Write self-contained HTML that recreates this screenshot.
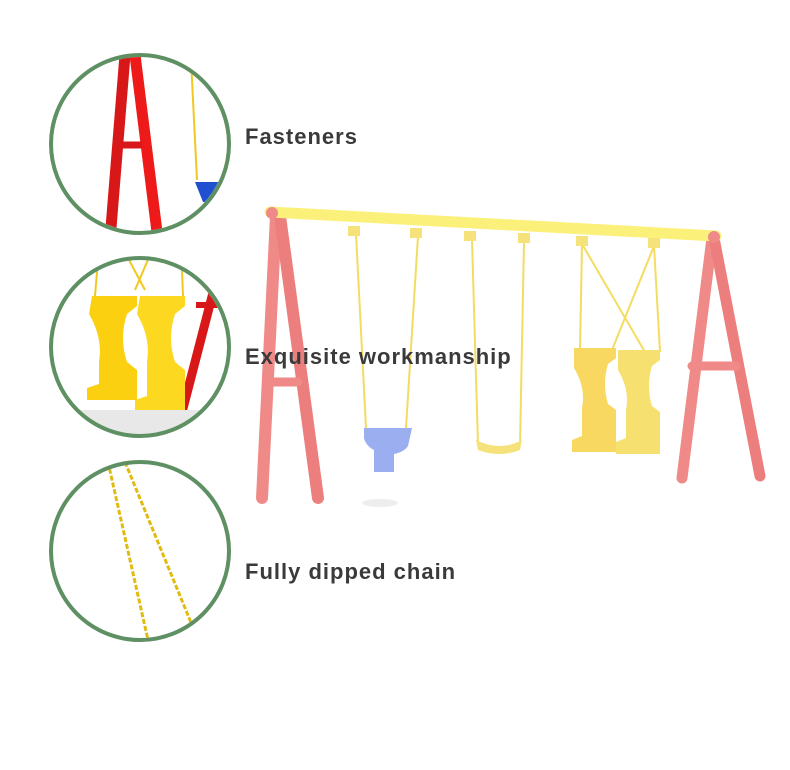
<!DOCTYPE html>
<html><head><style>
body{margin:0;background:#fff;}
.l{position:absolute;left:245px;font:bold 22px "Liberation Sans",sans-serif;letter-spacing:1px;color:#3a3a3a;}
</style></head><body>
<div style="position:relative;width:790px;height:770px;overflow:hidden">
<svg width="790" height="770" style="position:absolute;left:0;top:0">
<defs>
<clipPath id="c1"><circle cx="140" cy="144" r="87"/></clipPath>
<clipPath id="c2"><circle cx="140" cy="347" r="87"/></clipPath>
<clipPath id="c3"><circle cx="140" cy="551" r="87"/></clipPath>
</defs>
<g stroke-linecap="round">
<line x1="276" y1="216" x2="262" y2="498" stroke="#f08a88" stroke-width="12"/>
<line x1="280" y1="216" x2="318" y2="498" stroke="#ec7f7d" stroke-width="12"/>
<line x1="270" y1="382" x2="298" y2="382" stroke="#f08a88" stroke-width="9"/>
<line x1="712" y1="238" x2="682" y2="478" stroke="#f08a88" stroke-width="11"/>
<line x1="714" y1="238" x2="760" y2="476" stroke="#ec7f7d" stroke-width="11"/>
<line x1="692" y1="366" x2="736" y2="366" stroke="#f08a88" stroke-width="9"/>
<line x1="270" y1="212" x2="716" y2="236" stroke="#fbf07a" stroke-width="11"/>
<circle cx="272" cy="213" r="6" fill="#f08a88"/>
<circle cx="714" cy="237" r="6" fill="#f08a88"/>
</g>
<g stroke="#f4dc60" stroke-width="2" fill="none">
<line x1="356" y1="234" x2="366" y2="428"/><line x1="418" y1="236" x2="406" y2="428"/>
<line x1="472" y1="240" x2="478" y2="445"/><line x1="524" y1="242" x2="520" y2="445"/>
<line x1="582" y1="244" x2="580" y2="350"/><line x1="582" y1="244" x2="645" y2="352"/>
<line x1="654" y1="246" x2="612" y2="350"/><line x1="654" y1="246" x2="660" y2="352"/>
</g>
<g fill="#f6e27a">
<rect x="348" y="226" width="12" height="10"/><rect x="410" y="228" width="12" height="10"/>
<rect x="464" y="231" width="12" height="10"/><rect x="518" y="233" width="12" height="10"/>
<rect x="576" y="236" width="12" height="10"/><rect x="648" y="238" width="12" height="10"/>
</g>
<path d="M364 428 h48 l-4 18 q-4 6 -14 8 v18 h-20 v-22 q-8 -4 -10 -12z" fill="#9aaef0"/>
<path d="M476 440 q24 12 46 0 l-2 10 q-20 8 -42 0z" fill="#f6e27a"/>
<path d="M574 348 h42 v10 l-8 6 q-6 20 0 40 l8 6 v42 h-44 v-12 l10 -4 v-28 q4 -20 -8 -40 z" fill="#f8d860"/>
<path d="M618 350 h42 v10 l-8 6 q-6 20 0 40 l8 6 v42 h-44 v-12 l10 -4 v-28 q4 -20 -8 -40 z" fill="#f6e070"/>
<ellipse cx="380" cy="503" rx="18" ry="4" fill="#eee"/>
<g clip-path="url(#c1)">
<line x1="125" y1="55" x2="110" y2="240" stroke="#d81818" stroke-width="11"/>
<line x1="135" y1="55" x2="158" y2="240" stroke="#ee1a1a" stroke-width="11"/>
<line x1="118" y1="145" x2="142" y2="145" stroke="#d81818" stroke-width="7"/>
<line x1="191" y1="60" x2="197" y2="180" stroke="#f0c820" stroke-width="2"/>
<path d="M195 182 h28 v20 h-20 z" fill="#2050d0"/>
</g>
<g clip-path="url(#c2)">
<line x1="215" y1="285" x2="180" y2="420" stroke="#d81818" stroke-width="9"/>
<line x1="196" y1="305" x2="222" y2="305" stroke="#d81818" stroke-width="6"/>
<g stroke="#f0c820" stroke-width="2"><line x1="98" y1="260" x2="95" y2="296"/><line x1="150" y1="255" x2="135" y2="290"/><line x1="128" y1="258" x2="145" y2="290"/><line x1="182" y1="270" x2="183" y2="296"/></g>
<path d="M92 296 h45 v10 l-10 8 q-8 24 0 48 l10 8 v30 h-50 v-12 l12 -4 v-22 q4 -24 -10 -48 z" fill="#fad010"/>
<path d="M140 296 h45 v10 l-10 8 q-8 24 0 48 l10 8 v42 h-50 v-12 l12 -4 v-34 q4 -24 -10 -48 z" fill="#fcd820"/>
<rect x="50" y="410" width="180" height="30" fill="#e8e8e8"/>
</g>
<g clip-path="url(#c3)" stroke="#e0bc10" stroke-width="3" stroke-dasharray="5 2">
<line x1="108" y1="462" x2="148" y2="640"/>
<line x1="125" y1="462" x2="192" y2="625"/>
</g>
<g fill="none" stroke="#5e9063" stroke-width="4">
<circle cx="140" cy="144" r="89"/>
<circle cx="140" cy="347" r="89"/>
<circle cx="140" cy="551" r="89"/>
</g>
</svg>
<div class="l" style="top:124px">Fasteners</div>
<div class="l" style="top:344px">Exquisite workmanship</div>
<div class="l" style="top:559px">Fully dipped chain</div>
</div>
</body></html>
